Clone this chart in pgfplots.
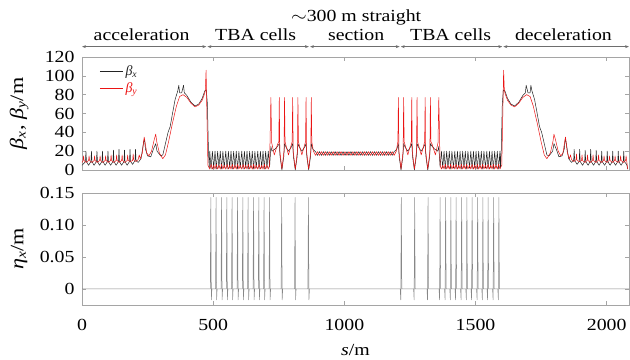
\documentclass[border=0pt]{standalone}
\usepackage{fontspec}
\setmainfont{Liberation Serif}
\usepackage{graphicx}
\usepackage{pgfplots}
\pgfplotsset{compat=1.18}
\usetikzlibrary{arrows.meta}
\newcommand{\sx}[1]{\scalebox{1.17}[1]{#1}}
\newcommand{\fs}{\fontsize{17}{20}\selectfont}
\newcommand{\fl}{\fontsize{19}{22}\selectfont}
\newcommand{\bx}{\textit{β}\textsubscript{\textit{x}}}
\newcommand{\by}{\textit{β}\textsubscript{\textit{y}}}
\definecolor{bxcol}{RGB}{35,35,35}
\definecolor{bycol}{RGB}{235,20,20}
\definecolor{axcol}{RGB}{165,165,165}
\definecolor{etacol}{RGB}{135,135,135}
\definecolor{arrcol}{RGB}{110,110,110}
\pgfplotsset{
  mystyle/.style={
    scale only axis, width=547bp,
    xmin=0, xmax=2085,
    xtick={0,500,1000,1500,2000},
    axis line style={axcol, line width=0.6bp},
    tick style={axcol, line width=0.6bp},
    tick align=inside, major tick length=4bp,
    tick label style={font=\fs},
    yticklabel style={anchor=east, xshift=-4bp},
    ylabel style={font=\fl, at={(axis description cs:-0.115,0.5)}, anchor=center},
    scaled y ticks=false, clip=false,
  }
}
\begin{document}
\begin{tikzpicture}
\begin{axis}[mystyle, name=top, at={(82bp,190bp)}, anchor=south west, height=113bp,
  ymin=0, ymax=120, ytick={0,20,40,60,80,100,120},
  yticklabels={\sx{0},\sx{20},\sx{40},\sx{60},\sx{80},\sx{100},\sx{120}},
  xticklabels={},
  ylabel={\sx{\bx, \by/m}},
  legend style={at={(axis cs:66,114)}, anchor=north west, draw=none, fill=none, inner sep=0pt,
    font=\fontsize{14}{15}\selectfont, row sep=1bp, nodes={inner sep=2.5bp}},
  legend cell align=left,
  legend image code/.code={\draw[#1] (0bp,0bp) -- (23bp,0bp);},
]
\addplot[bxcol, line width=0.5bp, line join=round] coordinates {
(0,5)(4,6)(13,9)(15,20)(17,9)(25,5)(34,9)(36,20)(38,9)(46,5)(55,9)(57,20)(59,9)(67,5)(76,9)(78,20)(80,9)(88,5)(97,9)(99,20)(101,9)(109,5)(118,9)(120,21)(122,9)(130,5)(139,9)(141,22)(143,9)(151,5)(160,9)(162,21)(164,9)(172,5)(181,9)(183,22)(185,9)(193,6)(202,10)(204,22)(206,10)(214,8)(225,12)(235,30)(238,33)(242,22)(250,15)(262,14)(272,22)(281,28)(286,20)(300,15)(308,16)(318,28)(328,40)(336,46)(345,60)(355,75)(365,84)(369,90)(372,82)(380,82)(387,90)(390,82)(400,79)(415,72)(431,68)(445,70)(458,76)(468,84)(474,85)(478,70)(482,20)(485,2)
(487,20)(492,1)(497,20)(502,2)(507,20)(512,1)(517,20)(522,2)(527,20)(532,1)(537,20)(542,2)(548,20)(553,1)(558,20)(563,2)(568,20)(573,1)(578,20)(583,2)(588,20)(593,1)(598,20)(603,2)(609,20)(614,1)(619,20)(624,2)(629,20)(634,1)(639,20)(644,2)(649,20)(654,1)(659,20)(664,2)(670,20)(675,1)(680,20)(685,2)(690,20)(695,1)(700,20)(705,2)(710,20)(715,3)
(720,25)(724,20)(735,22)(745,25)(752,28)(755,14)(762,0)(769,14)(772,28)(778,24)(787,20)(797,24)(803,28)(806,14)(813,0)(820,14)(823,28)(829,24)(838,20)(848,24)(854,28)(857,14)(864,0)(871,14)(874,28)(880,22)
(890,19.5)(897.5,15.5)(905,19.5)(912.5,15.5)(920,19.5)(927.5,15.5)(935,19.5)(942.5,15.5)(950,19.5)(957.5,15.5)(965,19.5)(972.5,15.5)(980,19.5)(987.5,15.5)(995,19.5)(1002.5,15.5)(1010,19.5)(1017.5,15.5)(1025,19.5)(1032.5,15.5)(1040,19.5)(1047.5,15.5)(1055,19.5)(1062.5,15.5)(1070,19.5)(1077.5,15.5)(1085,19.5)(1092.5,15.5)(1100,19.5)(1107.5,15.5)(1115,19.5)(1122.5,15.5)(1130,19.5)(1137.5,15.5)(1145,19.5)(1152.5,15.5)(1160,19.5)(1167.5,15.5)(1175,19.5)(1182.5,15.5)(1190,19.5)
(1200,22)(1206,28)(1209,14)(1216,0)(1223,14)(1226,28)(1232,24)(1242,20)(1251,24)(1257,28)(1260,14)(1267,0)(1274,14)(1277,28)(1283,24)(1293,20)(1302,24)(1308,28)(1311,14)(1318,0)(1325,14)(1328,28)(1335,25)(1345,22)(1356,20)(1360,25)(1365,3)
(1370,20)(1375,2)(1380,20)(1385,1)(1390,20)(1395,2)(1400,20)(1405,1)(1410,20)(1416,2)(1421,20)(1426,1)(1431,20)(1436,2)(1441,20)(1446,1)(1451,20)(1456,2)(1461,20)(1466,1)(1471,20)(1477,2)(1482,20)(1487,1)(1492,20)(1497,2)(1502,20)(1507,1)(1512,20)(1517,2)(1522,20)(1527,1)(1532,20)(1538,2)(1543,20)(1548,1)(1553,20)(1558,2)(1563,20)(1568,1)(1573,20)(1578,2)(1583,20)(1588,1)(1593,20)(1595,2)
(1598,20)(1602,70)(1606,85)(1612,84)(1622,76)(1635,70)(1649,68)(1665,72)(1680,79)(1690,82)(1693,90)(1700,82)(1708,82)(1711,90)(1715,84)(1725,75)(1735,60)(1744,46)(1752,40)(1762,28)(1772,16)(1780,15)(1794,20)(1799,28)(1808,22)(1818,14)(1830,15)(1838,22)(1842,33)(1845,30)(1855,12)(1866,8)(1874,10)(1876,22)(1878,10)(1887,6)(1895,9)(1897,22)(1899,9)(1908,5)(1916,9)(1918,21)(1920,9)(1929,5)(1937,9)(1939,22)(1941,9)(1950,5)(1958,9)(1960,21)(1962,9)(1971,5)(1979,9)(1981,20)(1983,9)(1992,5)(2000,9)(2002,20)(2004,9)(2013,5)(2021,9)(2023,20)(2025,9)(2034,5)(2042,9)(2044,20)(2046,9)(2055,5)(2063,9)(2065,20)(2067,9)(2076,6)(2080,1)
};
\addlegendentry{\textcolor{bxcol}{\bx}}
\addplot[bycol, line width=0.5bp, line join=round] coordinates {
(0,8)(4,10)(6,15)(8,10)(16,8)(25,10)(27,15)(29,10)(37,8)(46,10)(48,15)(50,10)(58,8)(67,10)(69,15)(71,10)(79,8)(88,10)(90,15)(92,10)(100,8)(109,10)(111,16)(113,10)(121,8)(130,10)(132,16)(134,10)(142,8)(151,10)(153,16)(155,10)(163,8)(172,10)(174,16)(176,10)(184,9)(193,10)(195,17)(197,11)(205,9)(214,11)(218,16)(222,12)(230,18)(237,35)(240,30)(247,18)(255,15)(265,20)(276,33)(281,38)(285,30)(295,18)(308,12)(318,16)(330,30)(345,50)(360,68)(372,78)(385,80)(400,77)(415,71)(431,67)(445,69)(458,74)(466,80)(470,84)(473,106)(476,60)(480,5)(484,3)
(487,1)(492,6)(497,1)(502,5)(507,1)(512,6)(517,1)(522,5)(527,1)(532,6)(537,1)(542,5)(548,1)(553,6)(558,1)(563,5)(568,1)(573,6)(578,1)(583,5)(588,1)(593,6)(598,1)(603,5)(609,1)(614,6)(619,1)(624,5)(629,1)(634,6)(639,1)(644,5)(649,1)(654,6)(659,1)(664,5)(670,1)(675,6)(680,1)(685,5)(690,1)(695,6)(700,1)(705,5)(710,1)(715,5)
(720,77)(723,29)(733,16)(745,27)(750,30)(752,77)(754,20)(762,1)(770,20)(772,77)(774,30)(787,16)(801,30)(803,77)(805,20)(813,1)(821,20)(823,77)(825,30)(838,16)(852,30)(854,77)(856,20)(864,1)(872,20)(874,77)(876,30)(882,20)
(890,15.5)(897.5,19.5)(905,15.5)(912.5,19.5)(920,15.5)(927.5,19.5)(935,15.5)(942.5,19.5)(950,15.5)(957.5,19.5)(965,15.5)(972.5,19.5)(980,15.5)(987.5,19.5)(995,15.5)(1002.5,19.5)(1010,15.5)(1017.5,19.5)(1025,15.5)(1032.5,19.5)(1040,15.5)(1047.5,19.5)(1055,15.5)(1062.5,19.5)(1070,15.5)(1077.5,19.5)(1085,15.5)(1092.5,19.5)(1100,15.5)(1107.5,19.5)(1115,15.5)(1122.5,19.5)(1130,15.5)(1137.5,19.5)(1145,15.5)(1152.5,19.5)(1160,15.5)(1167.5,19.5)(1175,15.5)(1182.5,19.5)(1190,15.5)
(1198,20)(1204,30)(1206,77)(1208,20)(1216,1)(1224,20)(1226,77)(1228,30)(1242,16)(1255,30)(1257,77)(1259,20)(1267,1)(1275,20)(1277,77)(1279,30)(1293,16)(1306,30)(1308,77)(1310,20)(1318,1)(1326,20)(1328,77)(1330,30)(1335,27)(1347,16)(1357,29)(1360,77)(1365,5)
(1370,1)(1375,5)(1380,1)(1385,6)(1390,1)(1395,5)(1400,1)(1405,6)(1410,1)(1416,5)(1421,1)(1426,6)(1431,1)(1436,5)(1441,1)(1446,6)(1451,1)(1456,5)(1461,1)(1466,6)(1471,1)(1477,5)(1482,1)(1487,6)(1492,1)(1497,5)(1502,1)(1507,6)(1512,1)(1517,5)(1522,1)(1527,6)(1532,1)(1538,5)(1543,1)(1548,6)(1553,1)(1558,5)(1563,1)(1568,6)(1573,1)(1578,5)(1583,1)(1588,6)(1593,1)(1596,3)
(1600,5)(1604,60)(1607,106)(1610,84)(1614,80)(1622,74)(1635,69)(1649,67)(1665,71)(1680,77)(1695,80)(1708,78)(1720,68)(1735,50)(1750,30)(1762,16)(1772,12)(1785,18)(1795,30)(1799,38)(1804,33)(1815,20)(1825,15)(1833,18)(1840,30)(1843,35)(1850,18)(1858,12)(1862,16)(1866,11)(1875,9)(1883,11)(1885,17)(1887,10)(1896,9)(1904,10)(1906,16)(1908,10)(1917,8)(1925,10)(1927,16)(1929,10)(1938,8)(1946,10)(1948,16)(1950,10)(1959,8)(1967,10)(1969,16)(1971,10)(1980,8)(1988,10)(1990,15)(1992,10)(2001,8)(2009,10)(2011,15)(2013,10)(2022,8)(2030,10)(2032,15)(2034,10)(2043,8)(2051,10)(2053,15)(2055,10)(2064,8)(2072,10)(2074,15)(2076,10)(2080,1)
};
\addlegendentry{\textcolor{bycol}{\by}}
% section arrows and labels
\draw[arrcol, line width=0.6bp, {Stealth[length=4bp,width=3bp]}-{Stealth[length=4bp,width=3bp]}] (axis cs:0,131) -- (axis cs:474,131);
\draw[arrcol, line width=0.6bp, {Stealth[length=4bp,width=3bp]}-{Stealth[length=4bp,width=3bp]}] (axis cs:478,131) -- (axis cs:865,131);
\draw[arrcol, line width=0.6bp, {Stealth[length=4bp,width=3bp]}-{Stealth[length=4bp,width=3bp]}] (axis cs:869,131) -- (axis cs:1211,131);
\draw[arrcol, line width=0.6bp, {Stealth[length=4bp,width=3bp]}-{Stealth[length=4bp,width=3bp]}] (axis cs:1215,131) -- (axis cs:1602,131);
\draw[arrcol, line width=0.6bp, {Stealth[length=4bp,width=3bp]}-{Stealth[length=4bp,width=3bp]}] (axis cs:1606,131) -- (axis cs:2085,131);
\node[font=\fs, anchor=base, inner sep=0pt] at (axis cs:227,137) {\sx{acceleration}};
\node[font=\fs, anchor=base, inner sep=0pt] at (axis cs:662,137) {\sx{TBA cells}};
\node[font=\fs, anchor=base, inner sep=0pt] at (axis cs:1045,137) {\sx{section}};
\node[font=\fs, anchor=base, inner sep=0pt] at (axis cs:1045,158) {\sx{$\sim$300 m straight}};
\node[font=\fs, anchor=base, inner sep=0pt] at (axis cs:1405,137) {\sx{TBA cells}};
\node[font=\fs, anchor=base, inner sep=0pt] at (axis cs:1835,137) {\sx{deceleration}};
\end{axis}
\begin{axis}[mystyle, name=bot, at={(82bp,55bp)}, anchor=south west, height=112bp,
  ymin=-0.025, ymax=0.15, ytick={0,0.05,0.1,0.15},
  yticklabels={\sx{0},\sx{0.05},\sx{0.10},\sx{0.15}},
  xticklabels={\sx{0},\sx{500},\sx{1000},\sx{1500},\sx{2000}},
  xticklabel style={anchor=center, yshift=-20bp},
  xlabel={\sx{\textit{s}/m}},
  xlabel style={font=\fs, at={(axis description cs:0.5,0)}, anchor=center, yshift=-45bp},
  ylabel={\sx{\textit{η}\textsubscript{\textit{x}}/m}},
]
\addplot[etacol, line width=0.5bp, line join=round] coordinates {
(0,0)
(489,0)(491,0.143)(493,-0.017)(495,0)
(509,0)(511,0.143)(513,-0.017)(515,0)
(530,0)(532,0.143)(534,-0.017)(536,0)
(550,0)(552,0.143)(554,-0.017)(556,0)
(570,0)(572,0.143)(574,-0.017)(576,0)
(591,0)(593,0.143)(595,-0.017)(597,0)
(611,0)(613,0.143)(615,-0.017)(617,0)
(631,0)(633,0.143)(635,-0.017)(637,0)
(652,0)(654,0.143)(656,-0.017)(658,0)
(672,0)(674,0.143)(676,-0.017)(678,0)
(692,0)(694,0.143)(696,-0.017)(698,0)
(713,0)(715,0.143)(717,-0.017)(719,0)
(759,0)(761,0.143)(763,-0.017)(765,0)
(810,0)(812,0.143)(814,-0.017)(816,0)
(861,0)(863,0.143)(865,-0.017)(867,0)
(1213,0)(1215,-0.017)(1217,0.143)(1219,0)
(1264,0)(1266,-0.017)(1268,0.143)(1270,0)
(1315,0)(1317,-0.017)(1319,0.143)(1321,0)
(1361,0)(1363,-0.017)(1365,0.143)(1367,0)
(1382,0)(1384,-0.017)(1386,0.143)(1388,0)
(1402,0)(1404,-0.017)(1406,0.143)(1408,0)
(1422,0)(1424,-0.017)(1426,0.143)(1428,0)
(1443,0)(1445,-0.017)(1447,0.143)(1449,0)
(1463,0)(1465,-0.017)(1467,0.143)(1469,0)
(1483,0)(1485,-0.017)(1487,0.143)(1489,0)
(1504,0)(1506,-0.017)(1508,0.143)(1510,0)
(1524,0)(1526,-0.017)(1528,0.143)(1530,0)
(1544,0)(1546,-0.017)(1548,0.143)(1550,0)
(1565,0)(1567,-0.017)(1569,0.143)(1571,0)
(1585,0)(1587,-0.017)(1589,0.143)(1591,0)
(2085,0)
};
\end{axis}
\pgfresetboundingbox
\path[use as bounding box] (0bp,0bp) rectangle (630bp,360bp);
\end{tikzpicture}
\end{document}
